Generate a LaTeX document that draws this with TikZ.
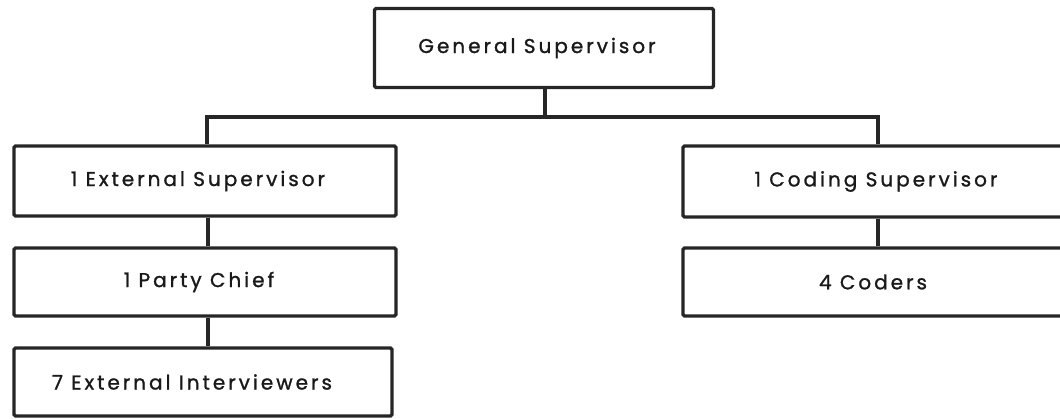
\documentclass[tikz,border=0pt]{standalone}
\usepackage{fontspec}
\setmainfont{Poppins}[LetterSpace=15,FakeBold=1.2]
\newcommand{\txtpad}[1]{\hspace*{#1pt}}
\begin{document}
\begin{tikzpicture}[x=1pt,y=-1pt,
  orgbox/.style={draw=black!85, line width=3.4pt, rounded corners=1.5pt, rectangle, inner sep=0pt, font=\fontsize{20}{22}\selectfont, text=black!90},
  link/.style={draw=black!85, line width=3.4pt}]
\useasboundingbox (0,0) rectangle (1060,419);
\node[orgbox, minimum width=339pt, minimum height=79pt] (gs) at (544,48) {\raisebox{3pt}{General Supervisor}\txtpad{14}};
\node[orgbox, minimum width=382pt, minimum height=70pt] (ext) at (205,181) {1 External Supervisor\txtpad{14}};
\node[orgbox, minimum width=382pt, minimum height=68pt] (pc) at (205,282) {1 Party Chief\txtpad{12}};
\node[orgbox, minimum width=378pt, minimum height=68pt] (ei) at (203,382) {7 External Interviewers\txtpad{22}};
\node[orgbox, minimum width=390pt, minimum height=71pt] (cs) at (878,181.5) {1 Coding Supervisor\txtpad{4}};
\node[orgbox, minimum width=390pt, minimum height=68pt] (cod) at (878,282) {4 Coders\txtpad{10}};
\coordinate (bar) at (545,117);
\draw[link] (gs.south -| bar) -- (bar);
\draw[link] (ext.north -| 207,0) |- (bar) -| (cs.north);
\draw[link] (ext.south -| 208,0) -- (pc.north -| 208,0);
\draw[link] (pc.south -| 208,0) -- (ei.north -| 208,0);
\draw[link] (cs.south) -- (cod.north);
\end{tikzpicture}
\end{document}
